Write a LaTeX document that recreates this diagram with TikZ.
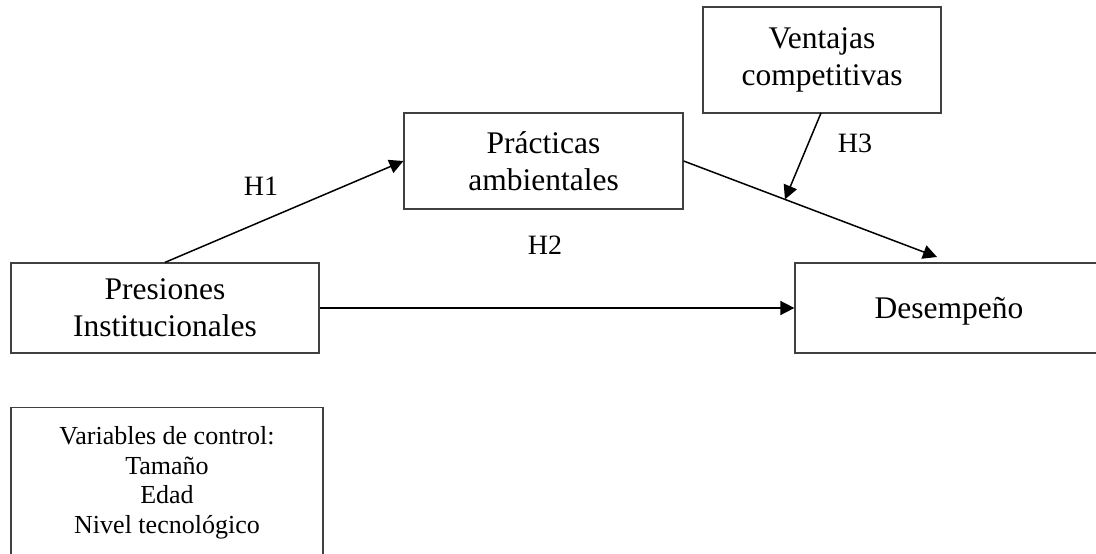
\documentclass[tikz,border=0pt]{standalone}
\usepackage{fontspec}
\setmainfont{Liberation Serif}
\usetikzlibrary{arrows.meta,calc}
\begin{document}
\begin{tikzpicture}[x=1pt,y=-1pt,
  box/.style={draw=black!75,line width=1.2pt,rectangle,align=center,inner sep=0pt},
  big/.style={font=\fontsize{31.5}{37}\selectfont},
  small/.style={font=\fontsize{26}{29.5}\selectfont},
  lab/.style={font=\fontsize{28}{32}\selectfont,inner sep=0pt},
  arr/.style={draw=black,line width=1.5pt,-{Triangle[length=14pt,width=14pt]}}]
\useasboundingbox (0,0) rectangle (1096,554);
\clip (0,0) rectangle (1096,554);
\fill[white] (0,0) rectangle (1096,554);
\node[box,big,minimum width=238pt,minimum height=106pt] (vent) at (822,60) {Ventajas\\competitivas};
\node[box,big,minimum width=279pt,minimum height=96pt] (prac) at (543.5,161) {Prácticas\\ambientales};
\node[box,big,minimum width=308pt,minimum height=90pt] (pres) at (165,308) {Presiones\\Institucionales};
\node[box,big,minimum width=308pt,minimum height=90pt,text depth=0pt] (des) at (949,308) {Desempeño};
\node[box,small,minimum width=312pt,inner ysep=19pt,anchor=north] (var) at (167,407) {Variables de control:\\Tamaño\\Edad\\Nivel tecnológico};
\coordinate (pd) at (937,257);
\coordinate (mid) at ($(prac.east)!0.4!(pd)$);
\draw[arr] (pres.north) -- (prac.west);
\draw[arr] (pres.east) -- (des.west);
\draw[arr] (prac.east) -- (pd);
\draw[arr] (821,113) coordinate (vs) -- (mid);
\node[lab] (h1) at (261,186) {H1};
\node[lab] (h2) at (545,245) {H2};
\node[lab] (h3) at (855,143) {H3};
\end{tikzpicture}
\end{document}
